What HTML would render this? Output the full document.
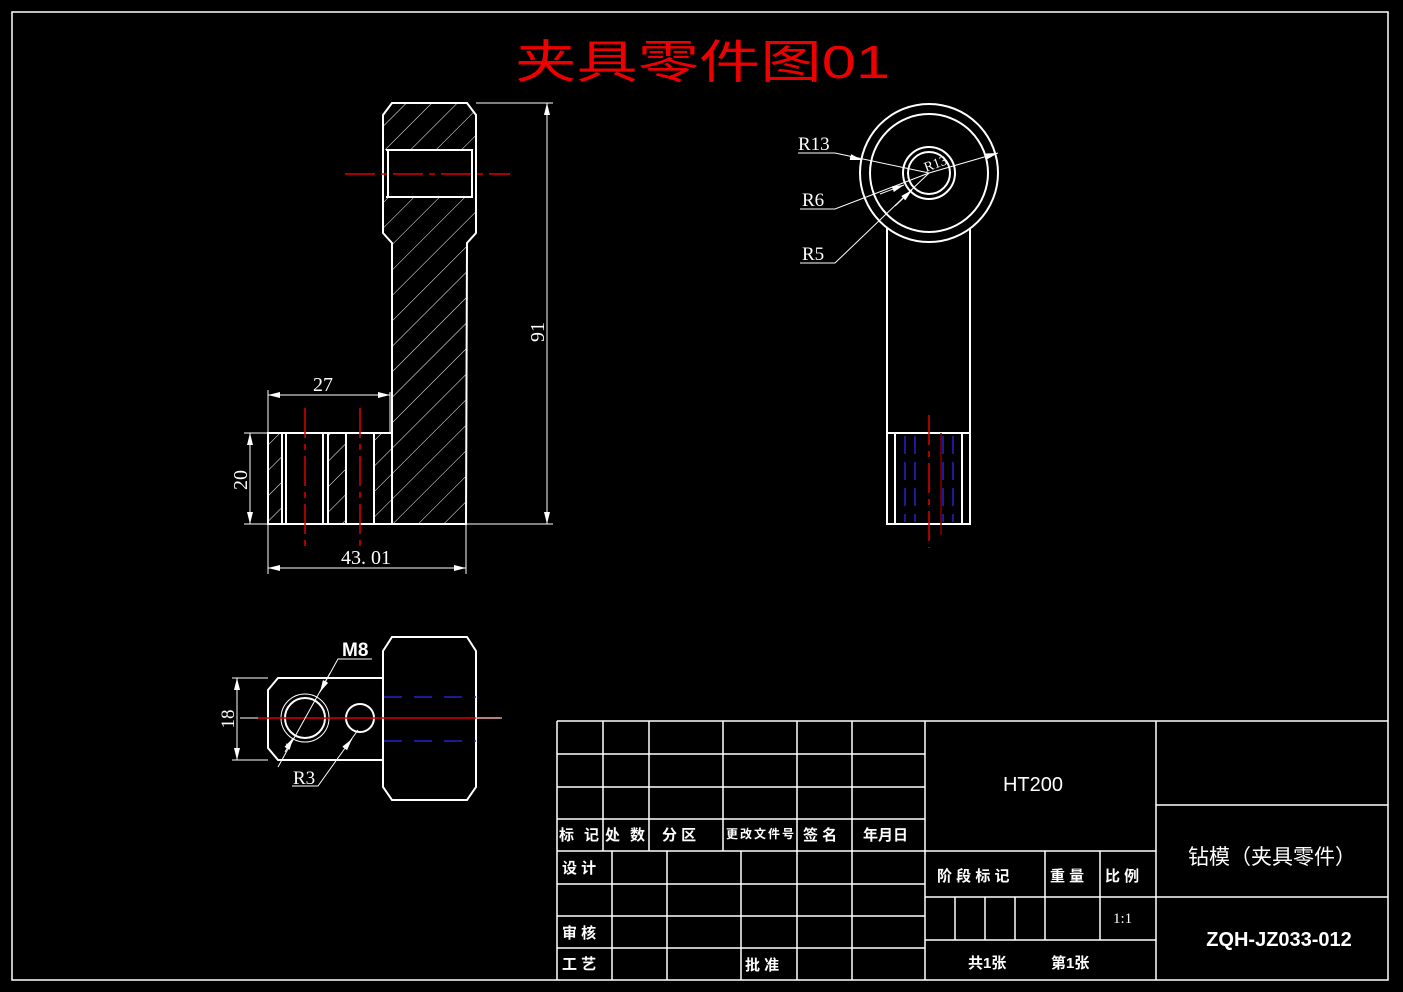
<!DOCTYPE html>
<html><head><meta charset="utf-8"><style>html,body{margin:0;padding:0;background:#000;}svg{display:block}</style></head>
<body>
<svg width="1403" height="992" viewBox="0 0 1403 992" xmlns="http://www.w3.org/2000/svg" font-family="'Liberation Serif','Noto Serif CJK SC',serif">
<defs>
<pattern id="h" patternUnits="userSpaceOnUse" width="18" height="18" patternTransform="rotate(45)">
<line x1="0" y1="0" x2="0" y2="18" stroke="#fff" stroke-width="1"/>
</pattern>
<marker id="a" markerWidth="12" markerHeight="6" refX="12" refY="3" orient="auto-start-reverse" markerUnits="userSpaceOnUse"><path d="M0,0 L12,3 L0,6z" fill="#fff"/></marker>
</defs>
<rect width="1403" height="992" fill="#000"/>
<g fill="none" stroke="#fff" stroke-width="1.5">
<rect x="12" y="12" width="1376" height="968"/>
</g>
<text x="515" y="78" fill="#e00" font-family="'Liberation Sans','Noto Sans CJK SC',sans-serif" font-size="46" textLength="375" lengthAdjust="spacingAndGlyphs">夹具零件图01</text>

<!-- front section view -->
<g>
<path d="M392,103 L467,103 L476,115 L476,150 L383,150 L383,115Z" fill="url(#h)"/>
<path d="M383,197 L476,197 L476,233 L467,243 L466,524 L392,524 L392,243 L383,233Z" fill="url(#h)"/>
<rect x="268" y="433" width="14" height="91" fill="url(#h)"/>
<rect x="328" y="433" width="18" height="91" fill="url(#h)"/>
<rect x="374" y="433" width="18" height="91" fill="url(#h)"/>
</g>
<g fill="none" stroke="#fff" stroke-width="2">
<path d="M392,103 L467,103 L476,115 L476,233 L467,243 L466,524 L268,524 L268,433 L392,433 L392,243 L383,233 L383,115Z"/>
<line x1="386" y1="150" x2="473" y2="150"/>
<line x1="386" y1="197" x2="473" y2="197"/>
<line x1="388" y1="150" x2="388" y2="197"/>
<line x1="472" y1="150" x2="472" y2="197"/>
<line x1="282" y1="433" x2="282" y2="524"/>
<line x1="286" y1="433" x2="286" y2="524"/>
<line x1="323" y1="433" x2="323" y2="524"/>
<line x1="328" y1="433" x2="328" y2="524"/>
<line x1="346" y1="433" x2="346" y2="524"/>
<line x1="374" y1="433" x2="374" y2="524"/>
<line x1="392" y1="433" x2="392" y2="524"/>
</g>
<g stroke="#d00" stroke-width="1.5" stroke-dasharray="30,6,6,6">
<line x1="345" y1="174" x2="510" y2="174"/>
<line x1="305" y1="408" x2="305" y2="546"/>
<line x1="360" y1="408" x2="360" y2="546"/>
</g>
<g stroke="#fff" stroke-width="1" fill="none">
<line x1="476" y1="103" x2="553" y2="103"/>
<line x1="466" y1="524" x2="553" y2="524"/>
<line x1="547" y1="103" x2="547" y2="524" marker-start="url(#a)" marker-end="url(#a)"/>
<line x1="268" y1="390" x2="268" y2="574"/>
<line x1="466" y1="524" x2="466" y2="574"/>
<line x1="390" y1="392" x2="390" y2="433"/>
<line x1="268" y1="395" x2="390" y2="395" marker-start="url(#a)" marker-end="url(#a)"/>
<line x1="268" y1="568" x2="466" y2="568" marker-start="url(#a)" marker-end="url(#a)"/>
<line x1="244" y1="433" x2="268" y2="433"/>
<line x1="244" y1="524" x2="268" y2="524"/>
<line x1="250" y1="433" x2="250" y2="524" marker-start="url(#a)" marker-end="url(#a)"/>
</g>
<g fill="#fff" font-size="20">
<text x="323" y="391" text-anchor="middle">27</text>
<text x="366" y="564" text-anchor="middle">43. 01</text>
<text transform="translate(247,480) rotate(-90)" text-anchor="middle">20</text>
<text transform="translate(544,332) rotate(-90)" text-anchor="middle">91</text>
</g>

<!-- side view -->
<g fill="none" stroke="#fff" stroke-width="2">
<circle cx="929" cy="173" r="69"/>
<circle cx="929" cy="173" r="59"/>
<circle cx="929" cy="173" r="26"/>
<circle cx="929" cy="173" r="21"/>
<path d="M887,228 L887,524 L970,524 L970,228"/>
<line x1="887" y1="433" x2="970" y2="433"/>
<line x1="895" y1="433" x2="895" y2="524"/>
<line x1="962" y1="433" x2="962" y2="524"/>
</g>
<g stroke="#22c" stroke-width="1.5" stroke-dasharray="18,8">
<line x1="905" y1="436" x2="905" y2="522"/>
<line x1="915" y1="436" x2="915" y2="522"/>
<line x1="943" y1="436" x2="943" y2="522"/>
<line x1="953" y1="436" x2="953" y2="522"/>
</g>
<g stroke="#d00" stroke-width="1.5">
<line x1="929" y1="415" x2="929" y2="548" stroke-dasharray="30,6,6,6"/>
<line x1="941" y1="433" x2="941" y2="535" stroke="#800"/>
</g>
<g stroke="#fff" stroke-width="1" fill="none">
<path d="M798,153 L835,153 L929,173"/>
<line x1="850" y1="157" x2="862" y2="160" marker-end="url(#a)"/>
<path d="M800,209 L835,209 L929,173"/>
<line x1="880" y1="194" x2="904" y2="185" marker-end="url(#a)"/>
<path d="M800,263 L835,263 L929,173"/>
<line x1="895" y1="206" x2="912" y2="190" marker-end="url(#a)"/>
<line x1="929" y1="173" x2="998" y2="153" marker-end="url(#a)"/>
</g>
<g fill="#fff" font-size="19">
<text x="798" y="150">R13</text>
<text x="802" y="206">R6</text>
<text x="802" y="260">R5</text>
<text transform="translate(926,172) rotate(-20)" font-size="14">R13</text>
</g>

<!-- top view -->
<g fill="none" stroke="#fff" stroke-width="2">
<path d="M383,678 L278,678 L268,690 L268,748 L278,760 L383,760"/>
<path d="M392,637 L467,637 L476,651 L476,787 L467,800 L392,800 L383,787 L383,651Z"/>
<circle cx="305" cy="718" r="20"/>
<circle cx="360" cy="718" r="14"/>
</g>
<circle cx="305" cy="718" r="24" fill="none" stroke="#fff" stroke-width="1"/>
<g stroke="#22c" stroke-width="1.5" stroke-dasharray="18,12">
<line x1="384" y1="697" x2="476" y2="697"/>
<line x1="384" y1="741" x2="476" y2="741"/>
</g>
<line x1="258" y1="718" x2="500" y2="718" stroke="#d00" stroke-width="1.5"/>
<line x1="240" y1="718" x2="258" y2="718" stroke="#fff" stroke-width="1"/>
<line x1="476" y1="718" x2="502" y2="718" stroke="#fff" stroke-width="1"/>
<g stroke="#fff" stroke-width="1" fill="none">
<line x1="232" y1="678" x2="268" y2="678"/>
<line x1="232" y1="760" x2="268" y2="760"/>
<line x1="237" y1="678" x2="237" y2="760" marker-start="url(#a)" marker-end="url(#a)"/>
<path d="M372,659 L338,659 L278,767"/>
<line x1="330" y1="673" x2="320" y2="692" marker-end="url(#a)"/>
<line x1="290" y1="745" x2="286" y2="744"/>
<line x1="293" y1="738" x2="285" y2="752" marker-start="url(#a)"/>
<path d="M292,786 L318,786 L358,730"/>
<line x1="345" y1="748" x2="352" y2="739" marker-end="url(#a)"/>
</g>
<g fill="#fff" font-size="19">
<text x="342" y="656" font-family="'Liberation Sans',sans-serif" font-weight="bold">M8</text>
<text x="293" y="784">R3</text>
<text transform="translate(234,719) rotate(-90)" text-anchor="middle">18</text>
</g>

<!-- title block -->
<g fill="none" stroke="#fff" stroke-width="1.5">
<path d="M557,721 L1388,721"/>
<line x1="557" y1="721" x2="557" y2="980"/>
<line x1="925" y1="721" x2="925" y2="980"/>
<line x1="1156" y1="721" x2="1156" y2="980"/>
<line x1="557" y1="754" x2="925" y2="754"/>
<line x1="557" y1="787" x2="925" y2="787"/>
<line x1="557" y1="819" x2="925" y2="819"/>
<line x1="557" y1="851" x2="1156" y2="851"/>
<line x1="557" y1="884" x2="925" y2="884"/>
<line x1="557" y1="916" x2="925" y2="916"/>
<line x1="557" y1="948" x2="925" y2="948"/>
<line x1="603" y1="721" x2="603" y2="851"/>
<line x1="649" y1="721" x2="649" y2="851"/>
<line x1="723" y1="721" x2="723" y2="851"/>
<line x1="797" y1="721" x2="797" y2="980"/>
<line x1="852" y1="721" x2="852" y2="980"/>
<line x1="612" y1="851" x2="612" y2="980"/>
<line x1="667" y1="851" x2="667" y2="980"/>
<line x1="741" y1="851" x2="741" y2="980"/>
<line x1="925" y1="897" x2="1156" y2="897"/>
<line x1="925" y1="940" x2="1156" y2="940"/>
<line x1="1045" y1="851" x2="1045" y2="940"/>
<line x1="1100" y1="851" x2="1100" y2="940"/>
<line x1="955" y1="897" x2="955" y2="940"/>
<line x1="985" y1="897" x2="985" y2="940"/>
<line x1="1015" y1="897" x2="1015" y2="940"/>
<line x1="1156" y1="805" x2="1388" y2="805"/>
<line x1="1156" y1="897" x2="1388" y2="897"/>
</g>
<g fill="#fff" font-family="'Liberation Sans','Noto Sans CJK SC',sans-serif" font-size="15" font-weight="bold">
<text x="559" y="840" textLength="40">标 记</text>
<text x="605" y="840" textLength="40">处 数</text>
<text x="662" y="840">分 区</text>
<text x="726" y="838" font-size="12" textLength="68">更改文件号</text>
<text x="803" y="840">签 名</text>
<text x="863" y="840">年月日</text>
<text x="562" y="873">设 计</text>
<text x="562" y="938">审 核</text>
<text x="562" y="969">工 艺</text>
<text x="745" y="970">批 准</text>
<text x="937" y="881">阶 段 标 记</text>
<text x="1050" y="881">重 量</text>
<text x="1105" y="881">比 例</text>
<text x="1113" y="923" font-family="'Liberation Serif',serif" font-weight="normal">1:1</text>
<text x="968" y="968">共1张</text>
<text x="1051" y="968">第1张</text>
<text x="1033" y="791" text-anchor="middle" font-size="20" font-weight="normal">HT200</text>
<text x="1272" y="864" text-anchor="middle" font-size="21" font-weight="normal">钻模（夹具零件）</text>
<text x="1279" y="946" text-anchor="middle" font-size="20">ZQH-JZ033-012</text>
</g>
</svg>
</body></html>
